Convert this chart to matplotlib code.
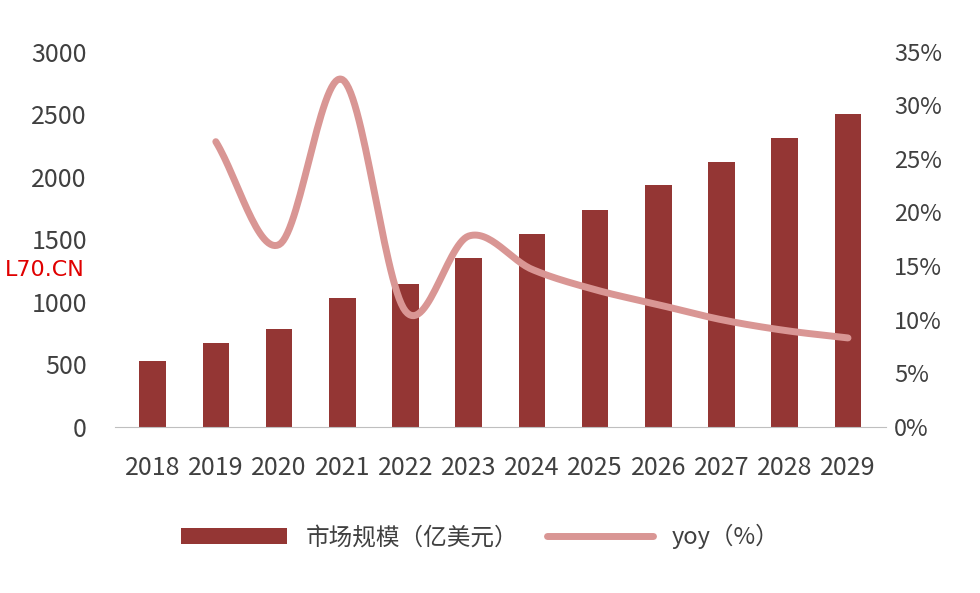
import matplotlib
matplotlib.use("Agg")
import matplotlib.pyplot as plt
import numpy as np

plt.rcParams['font.family'] = ['Noto Sans CJK SC', 'DejaVu Sans']

years = ['2018','2019','2020','2021','2022','2023','2024','2025','2026','2027','2028','2029']
market = [528, 672, 784, 1032, 1144, 1352, 1544, 1736, 1936, 2120, 2312, 2504]
yoy_years = years[1:]
yoy = [26.6, 17.0, 32.4, 10.8, 17.8, 14.7, 12.8, 11.4, 10.0, 9.0, 8.3]

def catmull(xs, ys, n=30):
    xs = np.asarray(xs, float); ys = np.asarray(ys, float)
    px = np.concatenate([[2*xs[0]-xs[1]], xs, [2*xs[-1]-xs[-2]]])
    py = np.concatenate([[2*ys[0]-ys[1]], ys, [2*ys[-1]-ys[-2]]])
    ox, oy = [], []
    for i in range(1, len(px)-2):
        t = np.linspace(0, 1, n, endpoint=False)
        for p, o in ((px, ox), (py, oy)):
            p0, p1, p2, p3 = p[i-1], p[i], p[i+1], p[i+2]
            o.extend(0.5*((2*p1) + (-p0+p2)*t + (2*p0-5*p1+4*p2-p3)*t**2 + (-p0+3*p1-3*p2+p3)*t**3))
    ox.append(xs[-1]); oy.append(ys[-1])
    return np.array(ox), np.array(oy)

fig = plt.figure(figsize=(9.8, 5.93), dpi=100)
ax = fig.add_axes([0.117, 0.28, 0.787, 0.633])
x = np.arange(len(years))
bars = ax.bar(x, market, width=0.42, color='#943634', label='市场规模（亿美元）', zorder=2)
ax.set_ylim(0, 3000)
ax.set_yticks(range(0, 3001, 500))
ax.set_xlim(-0.6, 11.6)
ax.set_xticks(x)
ax.set_xticklabels(years)
for s in ['top', 'right', 'left']:
    ax.spines[s].set_visible(False)
ax.spines['bottom'].set_color('#bfbfbf')
ax.tick_params(axis='both', length=0, labelsize=18, colors='#404040')
ax.tick_params(axis='x', pad=20)
ax.tick_params(axis='y', pad=20)

ax2 = ax.twinx()
sx, sy = catmull(x[1:], yoy)
line, = ax2.plot(sx, sy, color='#d99694', lw=5, solid_capstyle='round', label='yoy（%）', zorder=3)
ax2.set_ylim(0, 35)
ax2.set_yticks(range(0, 36, 5))
ax2.set_yticklabels([f'{v}%' for v in range(0, 36, 5)])
for s in ax2.spines.values():
    s.set_visible(False)
ax2.tick_params(axis='y', length=0, labelsize=17, colors='#404040', pad=6)

fig.legend([bars, line], ['市场规模（亿美元）', 'yoy（%）'], loc='center', bbox_to_anchor=(0.49, 0.095),
           ncol=2, frameon=False, fontsize=17, handlelength=4.5, columnspacing=1.2, labelcolor='#404040')
fig.text(0.005, 0.535, 'L70.CN', color='#e00000', fontsize=16, family='DejaVu Sans')
fig.savefig('out.png', dpi=100)
